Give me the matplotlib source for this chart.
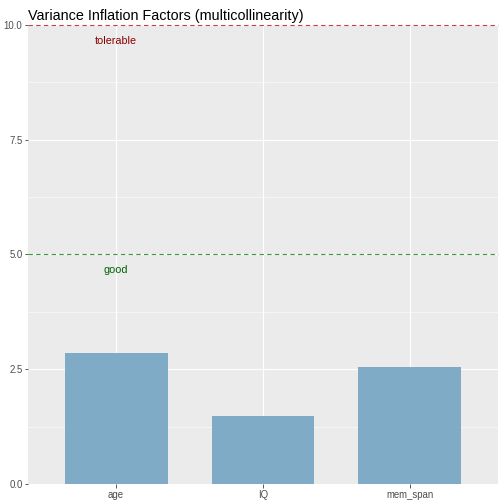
import matplotlib
matplotlib.use("Agg")
import matplotlib.pyplot as plt

plt.rcParams["font.family"] = ["Liberation Sans", "DejaVu Sans"]

# VIF values
predictors = ["age", "IQ", "mem_span"]
vif = [2.85, 1.48, 2.55]
thresholds = [5.0, 10.0]
threshold_labels = ["good", "tolerable"]
y_ticks = [0.0, 2.5, 5.0, 7.5, 10.0]

W, H = 504, 504
fig = plt.figure(figsize=(W / 72, H / 72), dpi=72)
ax = fig.add_axes([28 / W, 20 / H, 470 / W, 459.3 / H])
ax.set_facecolor("#EBEBEB")
for s in ax.spines.values():
    s.set_visible(False)

x = range(len(predictors))
ax.bar(x, vif, width=0.7, color="#80ABC7", zorder=3)
ax.set_xlim(-0.6, len(predictors) - 1 + 0.6)
ax.set_ylim(0, 10)

ax.set_yticks(y_ticks)
ax.set_yticklabels([f"{t:.1f}" for t in y_ticks])
ax.set_yticks([1.25, 3.75, 6.25, 8.75], minor=True)
ax.set_xticks(list(x))
ax.set_xticklabels(predictors)
ax.grid(which="major", color="white", lw=1.1, zorder=0)
ax.grid(which="minor", axis="y", color="white", lw=0.55, zorder=0)
ax.set_axisbelow(True)
ax.tick_params(which="major", length=3.5, width=0.8, color="#333333",
               labelsize=9.6, labelcolor="#4D4D4D", pad=2)
ax.tick_params(which="minor", length=0)

ax.axhline(thresholds[0], color="#3C9A3C", ls=(0, (4, 3)), lw=1.1, zorder=4, clip_on=False)
ax.axhline(thresholds[1], color="#C84040", ls=(0, (4, 3)), lw=1.1, zorder=4, clip_on=False)
ax.text(0, thresholds[0] - 0.35, threshold_labels[0], color="#006400",
        ha="center", va="center", fontsize=10.8, zorder=5)
ax.text(0, thresholds[1] - 0.35, threshold_labels[1], color="#8B0000",
        ha="center", va="center", fontsize=10.8, zorder=5)

ax.set_title("Variance Inflation Factors (multicollinearity)", loc="left",
             fontsize=14.4, pad=5, color="black")

fig.savefig("out.png", dpi=72)
